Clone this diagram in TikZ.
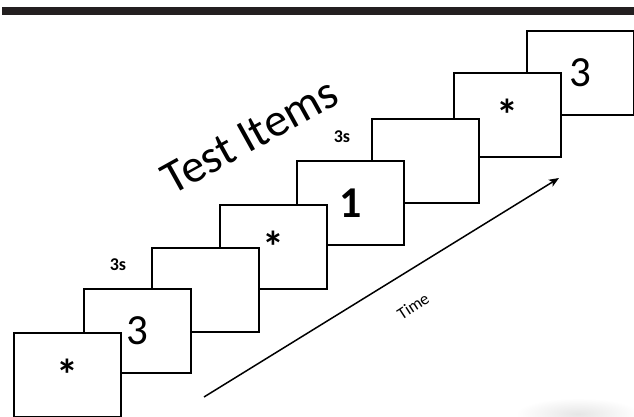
\documentclass[tikz,border=0pt]{standalone}
\usepackage{fontspec}
\setmainfont{Carlito}
\usetikzlibrary{arrows.meta}
\definecolor{barcol}{HTML}{231F20}
\begin{document}
\begin{tikzpicture}[x=1pt,y=-1pt,
  card/.style={draw=black, line width=1.6pt, fill=white, rectangle, anchor=north west,
    minimum width=107pt, minimum height=84pt, inner sep=0pt,
    font=\fontsize{43}{43}\selectfont},
  boldcard/.style={card, font=\fontsize{44}{44}\selectfont\bfseries},
  dur/.style={font=\fontsize{18}{18}\selectfont\bfseries, inner sep=0pt},
  conn/.style={line width=1.5pt, -{Stealth[length=10pt,width=8pt,inset=2.5pt]}}
]
\useasboundingbox (0,0) rectangle (634,417);
\fill[white] (0,0) rectangle (634,417);
% faint smudge bottom right
\shade[inner color=black!10, outer color=white] (578,414) ellipse [x radius=62, y radius=16];
% top bar
\fill[barcol] (2,7) rectangle (634,15);
% cards, back to front
\node[card]     (c8) at (526,30)  {3};
\node[boldcard] (c7) at (453,72)  {*};
\node[card]     (c6) at (371,118) {};
\node[boldcard] (c5) at (296,160) {1};
\node[boldcard] (c4) at (219,204) {*};
\node[card]     (c3) at (151,247) {};
\node[card]     (c2) at (83,288)  {3};
\node[boldcard] (c1) at (13,332)  {*};
% durations
\node[dur] (d1) at (118,265) {3s};
\node[dur] (d2) at (342,137) {3s};
% title
\node[rotate=29, font=\fontsize{47}{47}\selectfont, inner sep=0pt] (title) at (250,136) {Test Items};
% time arrow
\coordinate (tstart) at (204,397);
\coordinate (tend) at (559,178);
\draw[conn] (tstart) -- (tend);
\node[rotate=33, font=\fontsize{17}{17}\selectfont, inner sep=0pt] (time) at (413,306) {Time};
\end{tikzpicture}
\end{document}
